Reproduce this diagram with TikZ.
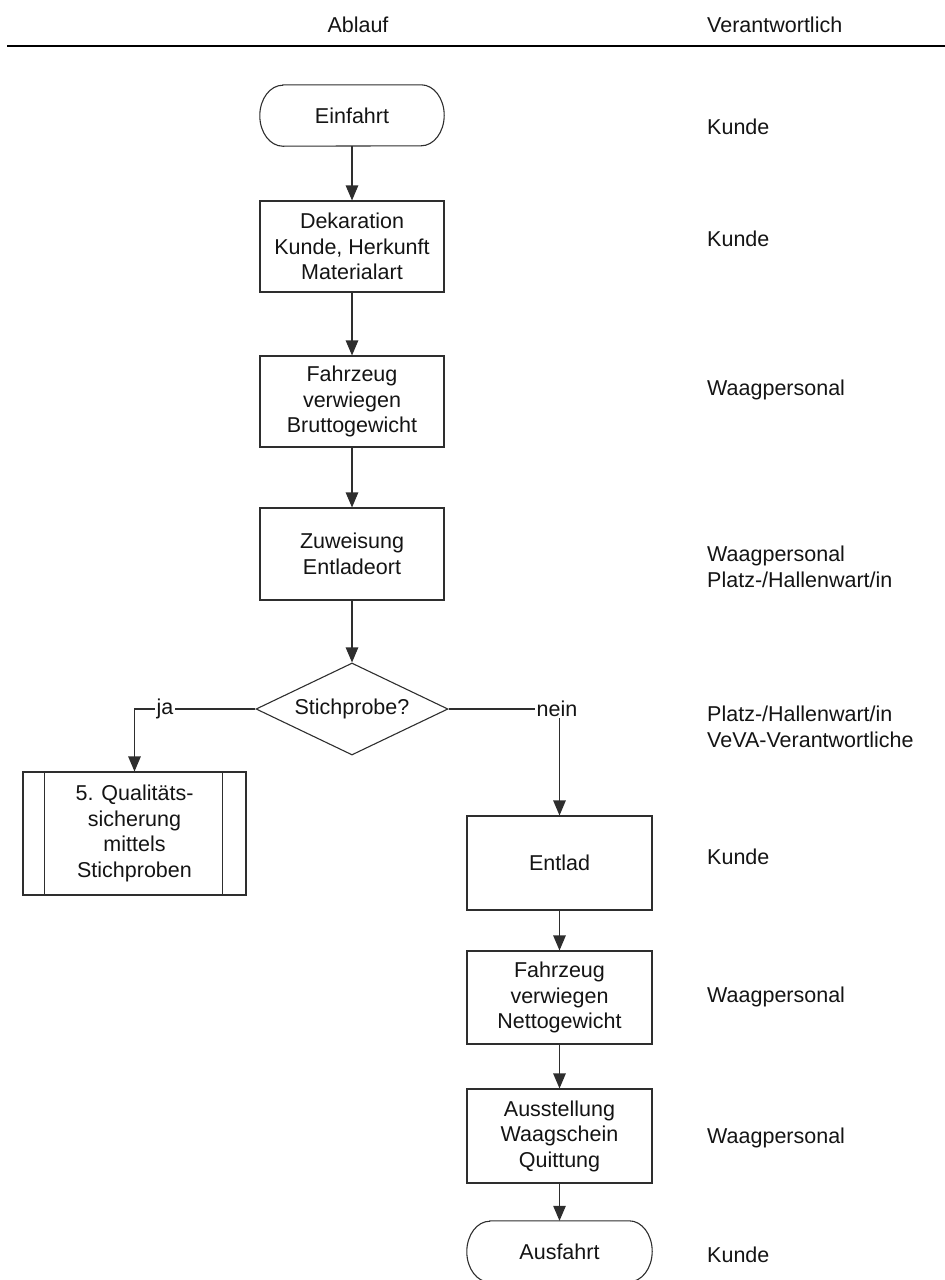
\documentclass[tikz,border=0pt]{standalone}
\usepackage{fontspec}
\setmainfont{Liberation Sans}
\usetikzlibrary{arrows.meta,shapes.geometric}
\definecolor{ln}{gray}{0.18}
\definecolor{tx}{gray}{0.08}
\tikzset{
  base/.style={font=\fontsize{21.5}{25.5}\selectfont, text=tx, align=center, inner sep=0pt},
  proc/.style={base, draw=ln, line width=1.1pt, minimum width=184pt, minimum height=92pt},
  termnode/.style={base, minimum width=184pt, minimum height=61pt},
  outline/.style={draw=ln, line width=1.1pt},
  arr/.style={draw=ln, line width=1.1pt, -{Triangle[length=15pt,width=12.5pt]}},
  plain/.style={draw=ln, line width=1.1pt},
  lbl/.style={base, fill=white, inner sep=1.5pt},
  resp/.style={base, anchor=west, align=left},
}
\newcommand\termoutline[1]{%
  \draw[outline] ([xshift=23pt]#1.north west) -- ([xshift=-23pt]#1.north east)
    arc[start angle=90,end angle=-90,x radius=23pt,y radius=30.5pt]
    -- ([xshift=23pt]#1.south west)
    arc[start angle=270,end angle=90,x radius=23pt,y radius=30.5pt] -- cycle;}
\begin{document}
\begin{tikzpicture}[x=1pt,y=1pt]
\path[use as bounding box] (0,0) rectangle (945,-1280);
\clip (0,0) rectangle (945,-1280);

% header
\node[base] (hAblauf) at (358,-25) {Ablauf};
\node[resp] (hVer) at (707,-25) {Verantwortlich};
\coordinate (ruleL) at (7,-46);
\coordinate (ruleR) at (945,-46);
\draw[line width=2.6pt, black] (ruleL) -- (ruleR);

% main column
\node[termnode] (einf) at (352,-115.5) {Einfahrt};
\termoutline{einf}
\node[proc, minimum height=91pt] (dek) at (352,-246.5) {Dekaration\\Kunde, Herkunft\\Materialart};
\node[proc, minimum height=91pt] (brutto) at (352,-401.5) {Fahrzeug\\verwiegen\\Bruttogewicht};
\node[proc] (zuw) at (352,-554) {Zuweisung\\Entladeort};
\node[base, draw=ln, line width=1.1pt, shape=diamond, shape aspect=2.087,
      minimum width=192pt, minimum height=92pt] (dec) at (352,-709) {Stichprobe?};

% left branch
\node[proc, minimum width=223pt, minimum height=123pt] (qual) at (134.5,-833.5)
  {5. Qualitäts-\\sicherung\\mittels\\Stichproben};
\draw[plain] ([xshift=22pt]qual.north west) -- ([xshift=22pt]qual.south west);
\draw[plain] ([xshift=-24pt]qual.north east) -- ([xshift=-24pt]qual.south east);

% right column
\node[proc, minimum width=185pt, minimum height=94pt] (ent) at (559.5,-863) {Entlad};
\node[proc, minimum width=185pt, minimum height=93pt] (netto) at (559.5,-997.5) {Fahrzeug\\verwiegen\\Nettogewicht};
\node[proc, minimum width=185pt, minimum height=94pt] (auss) at (559.5,-1136) {Ausstellung\\Waagschein\\Quittung};
\node[termnode, minimum width=185pt] (ausf) at (559.5,-1251.5) {Ausfahrt};
\termoutline{ausf}

% connectors
\draw[arr] (einf.south) -- (dek.north);
\draw[arr] (dek.south) -- (brutto.north);
\draw[arr] (brutto.south) -- (zuw.north);
\draw[arr] (zuw.south) -- (dec.north);
\draw[arr] (dec.west) -| (qual.north);
\node[lbl] (ja) at (165,-709) {ja};
\draw[arr] (dec.east) -| (ent.north);
\node[lbl] (nein) at (557,-709) {nein};
\draw[arr] (ent.south) -- (netto.north);
\draw[arr] (netto.south) -- (auss.north);
\draw[arr] (auss.south) -- (ausf.north);

% responsibilities
\node[resp] (r1) at (707,-127) {Kunde};
\node[resp] (r2) at (707,-239) {Kunde};
\node[resp] (r3) at (707,-390) {Waagpersonal};
\node[resp] (r4) at (707,-567) {Waagpersonal\\Platz-/Hallenwart/in};
\node[resp] (r5) at (707,-727) {Platz-/Hallenwart/in\\VeVA-Verantwortliche};
\node[resp] (r6) at (707,-857) {Kunde};
\node[resp] (r7) at (707,-997) {Waagpersonal};
\node[resp] (r8) at (707,-1138) {Waagpersonal};
\node[resp] (r9) at (707,-1255) {Kunde};
\end{tikzpicture}
\end{document}
